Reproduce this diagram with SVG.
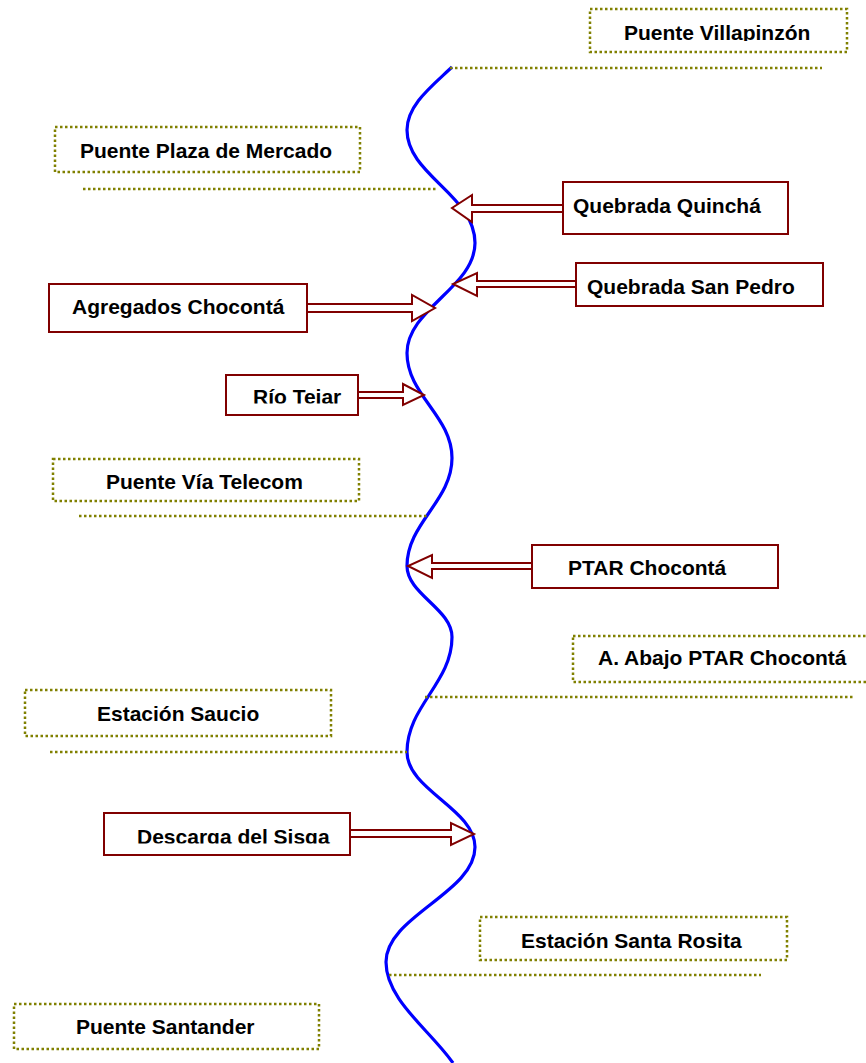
<svg xmlns="http://www.w3.org/2000/svg" width="866" height="1063" viewBox="0 0 866 1063">
<style>
.site{fill:#fff;stroke:#808000;stroke-width:2.5;stroke-dasharray:2.5 2.5}
.lead{fill:none;stroke:#808000;stroke-width:2.5;stroke-dasharray:2.5 2.5}
.src{fill:#fff;stroke:#800000;stroke-width:2}
.arr{fill:#fff;stroke:#800000;stroke-width:2;stroke-linejoin:miter}
.river{fill:none;stroke:#0000ff;stroke-width:3.2;stroke-linecap:butt}
.t{font-family:"Liberation Sans",Arial,sans-serif;font-weight:bold;font-size:21px;fill:#000}
</style>
<defs>
<clipPath id="c1"><rect x="590" y="9" width="257" height="32"/></clipPath>
<clipPath id="c2"><rect x="226" y="375" width="132" height="28.5"/></clipPath>
<clipPath id="c3"><rect x="104" y="813" width="246" height="30.5"/></clipPath>
</defs>
<g id="connectors">
<path class="river" d="M452,67 C432,86 407,105 407,130 C407,175 475,195 475,243 C475,287 407,309 407,353 C407,395 452,416 452,458 C452,501 407,523 407,566 C407,594 452,609 452,637 C452,683 407,706 407,752 C407,790 475,809 475,847 C475,893 386,916 386,962 C386,1000 430,1030 453,1063"/>
<line class="lead" x1="450" y1="68" x2="822" y2="68"/>
<line class="lead" x1="83" y1="189" x2="437" y2="189"/>
<line class="lead" x1="79" y1="516" x2="427" y2="516"/>
<line class="lead" x1="425" y1="697" x2="855" y2="697"/>
<line class="lead" x1="50" y1="752" x2="407" y2="752"/>
<line class="lead" x1="389" y1="975" x2="761" y2="975"/>
<polygon class="arr" points="563,205 472,205 472,195 452,208 472,222 472,212 563,212"/>
<polygon class="arr" points="576,281 477,281 477,273 453,284 477,296 477,287 576,287"/>
<polygon class="arr" points="307,304 412,304 412,295 435,308 412,321 412,312 307,312"/>
<polygon class="arr" points="358,392 403,392 403,384 424,395 403,405 403,398 358,398"/>
<polygon class="arr" points="532,563 432,563 432,555 408,566 432,578 432,569 532,569"/>
<polygon class="arr" points="350,830 451,830 451,823 474,834 451,845 451,837 350,837"/>
</g>
<g id="puente-villapinzon">
<rect class="site" x="590" y="9" width="257" height="43"/>
<text class="t" x="624" y="40" clip-path="url(#c1)">Puente Villapinzón</text>
</g>
<g id="puente-plaza-mercado">
<rect class="site" x="55" y="127" width="305" height="45"/>
<text class="t" x="80" y="158">Puente Plaza de Mercado</text>
</g>
<g id="quebrada-quincha">
<rect class="src" x="563" y="182" width="225" height="52"/>
<text class="t" x="573" y="213">Quebrada Quinchá</text>
</g>
<g id="quebrada-san-pedro">
<rect class="src" x="576" y="263" width="247" height="43"/>
<text class="t" x="587" y="294">Quebrada San Pedro</text>
</g>
<g id="agregados-choconta">
<rect class="src" x="49" y="284" width="258" height="48"/>
<text class="t" x="72" y="314">Agregados Chocontá</text>
</g>
<g id="rio-tejar">
<rect class="src" x="226" y="375" width="132" height="40"/>
<text class="t" x="253" y="404" clip-path="url(#c2)">Río Tejar</text>
</g>
<g id="puente-via-telecom">
<rect class="site" x="53" y="459" width="306" height="42"/>
<text class="t" x="106" y="488.5">Puente Vía Telecom</text>
</g>
<g id="ptar-choconta">
<rect class="src" x="532" y="545" width="246" height="43"/>
<text class="t" x="568" y="575">PTAR Chocontá</text>
</g>
<g id="abajo-ptar-choconta">
<rect class="site" x="573" y="636" width="296" height="46"/>
<text class="t" x="598" y="665">A. Abajo PTAR Chocontá</text>
</g>
<g id="estacion-saucio">
<rect class="site" x="25" y="690" width="306" height="46"/>
<text class="t" x="97" y="721">Estación Saucio</text>
</g>
<g id="descarga-sisga">
<rect class="src" x="104" y="813" width="246" height="42"/>
<text class="t" x="137" y="844" clip-path="url(#c3)">Descarga del Sisga</text>
</g>
<g id="estacion-santa-rosita">
<rect class="site" x="480" y="917" width="307" height="43"/>
<text class="t" x="521" y="948">Estación Santa Rosita</text>
</g>
<g id="puente-santander">
<rect class="site" x="14" y="1004" width="305" height="45"/>
<text class="t" x="76" y="1034">Puente Santander</text>
</g>
</svg>
